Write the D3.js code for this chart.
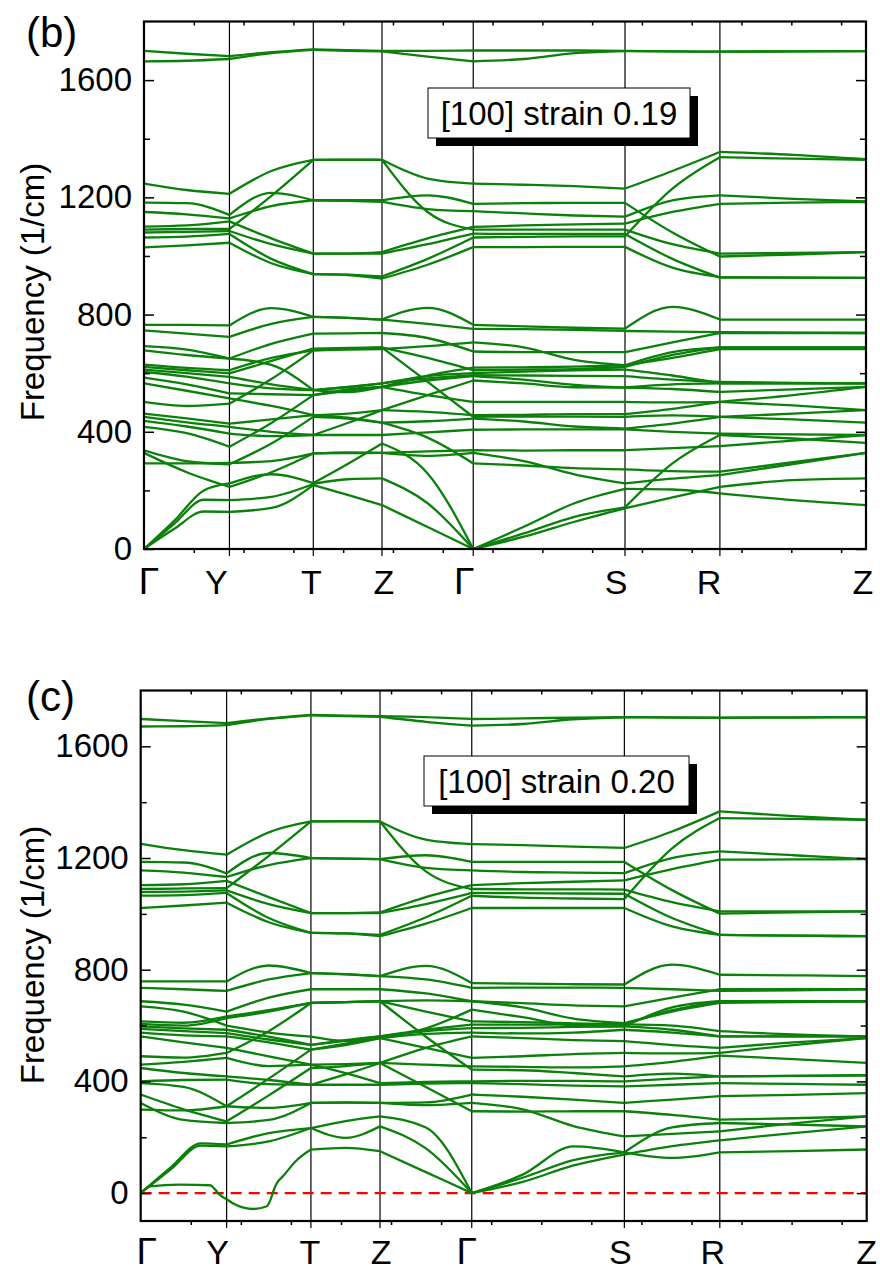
<!DOCTYPE html>
<html>
<head>
<meta charset="utf-8">
<script src="https://d3js.org/d3.v7.min.js"></script>
<style>
  body { margin: 0; background: #fff; }
  text { font-family: "Liberation Sans", Arial, sans-serif; }
</style>
</head>
<body>
<div id="chart"></div>
<script>
// high symmetry points along the q path (path length units)
var kLabels = ["Γ", "Y", "T", "Z", "Γ", "S", "R", "Z"]
var kPos = [0, 0.858, 1.70, 2.39, 3.306, 4.83, 5.783, 7.25]
var kSamples = [0, 0.429, 0.858, 1.279, 1.70, 2.045, 2.39, 2.848, 3.306, 3.814, 4.322, 4.83, 5.3065, 5.783, 6.5165, 7.25]
// acoustic bands were read a bit finer near the first Γ
var kAcoustic = [0, 0.3, 0.6, 0.858, 1.279, 1.70, 2.045, 2.39, 2.848, 3.306, 3.814, 4.322, 4.83, 5.3065, 5.783, 6.5165, 7.25]

var yTicks = [0, 400, 800, 1200, 1600]
var yMinor = [200, 600, 1000, 1400]
var xMinor = [0.5, 1, 1.5, 2, 2.5, 3, 3.5, 4, 4.5, 5, 5.5, 6, 6.5, 7]

// ---- strain 0.19 : frequencies (1/cm) ----
var acoustic019 = [
  [0, 68, 128, 127, 140, 218, 185, 150, 75, 0, 42, 93, 139, 176, 212, 235, 241],
  [0, 85, 168, 167, 178, 222, 238, 241, 156, 0, 53, 110, 142, 292, 389, 377, 362],
  [0, 95, 200, 224, 255, 225, 290, 360, 258, 0, 76, 156, 205, 203, 190, 167, 150]
]
var optical019 = [
  [292, 292, 294, 300, 326, 327, 328, 318, 328, 300, 255, 224, 240, 252, 290, 328],
  [328, 262, 212, 262, 326, 330, 328, 333, 337, 336, 337, 337, 344, 351, 370, 389],
  [337, 300, 289, 360, 451, 445, 431, 380, 292, 285, 276, 272, 266, 264, 296, 328],
  [417, 395, 349, 430, 525, 545, 553, 525, 502, 502, 502, 502, 500, 502, 525, 553],
  [437, 418, 394, 385, 389, 389, 389, 398, 407, 408, 408, 408, 400, 394, 391, 389],
  [451, 432, 417, 400, 389, 430, 474, 468, 457, 458, 460, 460, 478, 502, 490, 474],
  [462, 446, 428, 442, 457, 448, 431, 436, 445, 435, 418, 411, 428, 451, 442, 431],
  [502, 488, 496, 580, 678, 683, 688, 570, 451, 452, 452, 451, 456, 451, 462, 474],
  [565, 540, 514, 488, 457, 462, 474, 525, 575, 565, 552, 551, 546, 536, 545, 553],
  [585, 562, 531, 528, 525, 540, 553, 575, 590, 578, 560, 551, 562, 565, 565, 565],
  [604, 588, 565, 548, 542, 552, 565, 582, 593, 592, 591, 590, 578, 570, 567, 565],
  [612, 600, 587, 562, 542, 553, 565, 590, 600, 605, 610, 612, 592, 565, 565, 565],
  [621, 610, 599, 642, 684, 686, 688, 652, 610, 612, 614, 621, 662, 688, 688, 688],
  [629, 618, 610, 652, 678, 680, 682, 692, 705, 688, 645, 627, 652, 682, 682, 682],
  [678, 662, 650, 628, 542, 535, 553, 592, 619, 620, 622, 627, 672, 688, 688, 688],
  [692, 680, 650, 700, 735, 736, 737, 720, 674, 672, 672, 672, 705, 737, 737, 737],
  [746, 735, 724, 768, 792, 789, 783, 768, 751, 750, 748, 744, 742, 740, 738, 737],
  [765, 765, 763, 822, 792, 789, 783, 823, 765, 760, 755, 752, 826, 783, 783, 783]
]
var upper019 = [
  [1247, 1225, 1212, 1290, 1328, 1329, 1328, 1264, 1247, 1243, 1238, 1230, 1290, 1355, 1345, 1330],
  [1182, 1180, 1140, 1215, 1190, 1190, 1190, 1207, 1178, 1180, 1181, 1181, 1080, 998, 1005, 1013],
  [1150, 1142, 1128, 1170, 1190, 1188, 1185, 1160, 1153, 1145, 1138, 1134, 1190, 1207, 1195, 1186],
  [1100, 1104, 1118, 1060, 1008, 1008, 1013, 1060, 1099, 1104, 1108, 1110, 1150, 1178, 1182, 1184],
  [1090, 1092, 1092, 1205, 1328, 1328, 1328, 1150, 1090, 1090, 1090, 1090, 1040, 1008, 1010, 1013],
  [1063, 1066, 1075, 990, 938, 936, 930, 990, 1063, 1065, 1067, 1067, 1230, 1337, 1332, 1328],
  [1029, 1036, 1045, 975, 938, 935, 923, 970, 1030, 1030, 1031, 1031, 960, 928, 926, 925],
  [1080, 1082, 1085, 1040, 1008, 1008, 1008, 1040, 1076, 1075, 1075, 1075, 990, 926, 926, 925],
  [1700, 1690, 1682, 1695, 1705, 1702, 1700, 1700, 1701, 1701, 1701, 1700, 1698, 1697, 1698, 1699],
  [1664, 1666, 1672, 1692, 1703, 1700, 1698, 1680, 1664, 1672, 1692, 1699, 1698, 1697, 1698, 1699]
]

// ---- strain 0.20 ----
var acoustic020 = [
  [0, 85, 170, 167, 185, 233, 198, 239, 160, 0, 55, 118, 146, 235, 251, 245, 239],
  [0, 92, 178, 174, 215, 233, 258, 275, 235, 0, 66, 167, 146, 126, 146, 150, 156]
]
// the soft transverse mode, read on its own finer q grid
var softK020 = [0, 0.093, 0.39, 0.692, 0.74, 0.78, 0.858, 0.95, 1.12, 1.26, 1.30, 1.33, 1.36, 1.42, 1.55, 1.70, 2.045, 2.39, 2.848, 3.306, 3.814, 4.322, 4.83, 5.3065, 5.783, 6.5165, 7.25]
var softMode020 = [0, 24, 30, 28, 14, -3, -22, -42, -57, -47, -20, 12, 36, 60, 115, 156, 162, 150, 75, 0, 40, 99, 138, 168, 189, 215, 239]
var optical020 = [
  [299, 296, 311, 305, 323, 324, 323, 315, 323, 300, 240, 203, 212, 221, 250, 275],
  [323, 262, 251, 262, 323, 325, 323, 325, 353, 345, 335, 323, 335, 347, 352, 358],
  [353, 300, 257, 350, 448, 455, 466, 380, 293, 292, 293, 293, 280, 263, 268, 275],
  [394, 380, 311, 410, 514, 535, 555, 520, 484, 490, 498, 502, 500, 502, 530, 555],
  [400, 405, 406, 390, 388, 388, 388, 392, 394, 390, 385, 382, 388, 394, 391, 388],
  [448, 430, 418, 405, 388, 425, 466, 460, 454, 452, 450, 454, 470, 492, 480, 466],
  [460, 470, 484, 455, 460, 430, 394, 398, 400, 402, 402, 400, 410, 418, 420, 422],
  [490, 485, 502, 580, 681, 684, 687, 560, 442, 440, 430, 418, 428, 418, 420, 422],
  [561, 540, 520, 490, 460, 462, 466, 520, 561, 555, 548, 544, 530, 520, 540, 555],
  [575, 565, 561, 540, 514, 530, 555, 570, 575, 572, 575, 585, 575, 561, 561, 561],
  [588, 580, 573, 550, 531, 545, 561, 580, 591, 592, 595, 597, 585, 561, 561, 561],
  [597, 590, 585, 560, 531, 548, 561, 585, 603, 603, 604, 604, 600, 580, 568, 561],
  [606, 600, 627, 650, 681, 684, 687, 650, 615, 612, 608, 604, 655, 687, 687, 687],
  [615, 610, 633, 655, 681, 684, 687, 690, 687, 665, 625, 609, 650, 681, 684, 687],
  [669, 650, 600, 575, 560, 545, 555, 590, 657, 630, 600, 597, 665, 687, 687, 687],
  [687, 675, 650, 700, 730, 730, 730, 715, 687, 680, 672, 669, 700, 730, 730, 730],
  [735, 730, 724, 765, 788, 783, 777, 765, 735, 736, 736, 735, 730, 724, 726, 730],
  [758, 758, 758, 815, 788, 784, 777, 814, 752, 750, 748, 747, 818, 782, 780, 777]
]
var upper020 = [
  [1251, 1228, 1212, 1292, 1331, 1332, 1331, 1266, 1250, 1246, 1241, 1236, 1295, 1367, 1350, 1337],
  [1186, 1184, 1145, 1218, 1200, 1198, 1196, 1210, 1186, 1186, 1186, 1186, 1085, 1001, 1005, 1009],
  [1156, 1148, 1132, 1175, 1200, 1198, 1196, 1165, 1156, 1150, 1148, 1146, 1200, 1224, 1210, 1196],
  [1103, 1106, 1118, 1060, 1003, 1003, 1005, 1060, 1103, 1110, 1115, 1120, 1160, 1194, 1195, 1196],
  [1089, 1091, 1092, 1208, 1331, 1331, 1331, 1152, 1089, 1088, 1088, 1087, 1042, 1009, 1009, 1009],
  [1065, 1067, 1075, 985, 932, 930, 925, 988, 1065, 1058, 1055, 1053, 1235, 1343, 1340, 1337],
  [1021, 1030, 1040, 970, 932, 930, 920, 965, 1021, 1021, 1021, 1021, 955, 925, 922, 920],
  [1078, 1080, 1084, 1035, 1003, 1003, 1003, 1035, 1075, 1074, 1073, 1072, 985, 925, 922, 920],
  [1698, 1690, 1683, 1700, 1713, 1710, 1708, 1705, 1698, 1700, 1703, 1705, 1704, 1703, 1704, 1705],
  [1671, 1672, 1676, 1698, 1711, 1708, 1706, 1688, 1674, 1680, 1697, 1704, 1703, 1702, 1703, 1704]
]

var width = 880
var height = 1272
var green = "#0b800b"

var svg = d3.select("#chart")
    .append("svg")
    .attr("width", width)
    .attr("height", height)

svg.append("rect").attr("width", width).attr("height", height).attr("fill", "white")

// label nudges, as placed by hand in the original
var labelDx019 = [5, -13, -2, 2, -9, -9, -11, -3]
var labelDx020 = [6, -9, -1, 1, -5, -4, -7, 0]

var panels = [
  { id: "b", tag: "(b)", note: "[100] strain 0.19",
    acoustic: acoustic019, bands: optical019.concat(upper019), soft: null,
    left: 144, right: 866, top: 21.5, bottom: 549, yDomain: [0, 1800],
    tagY: 47, titleY: 292, labelY: 594, labelDx: labelDx019,
    box: { x: 428, y: 88, w: 262, h: 50 } },
  { id: "c", tag: "(c)", note: "[100] strain 0.20",
    acoustic: acoustic020, bands: optical020.concat(upper020), soft: [softK020, softMode020],
    left: 140.7, right: 866.7, top: 690.5, bottom: 1221, yDomain: [-100, 1800],
    tagY: 711, titleY: 955, labelY: 1264, labelDx: labelDx020,
    box: { x: 424, y: 756, w: 265, h: 50 } }
]

panels.forEach(drawPanel)

function drawPanel(p) {
    var x = d3.scaleLinear().domain([0, kPos[kPos.length - 1]]).range([p.left, p.right])
    var y = d3.scaleLinear().domain(p.yDomain).range([p.bottom, p.top])
    var g = svg.append("g")

    g.append("clipPath").attr("id", "clip-" + p.id)
        .append("rect").attr("x", p.left).attr("y", p.top)
        .attr("width", p.right - p.left).attr("height", p.bottom - p.top)

    // vertical lines at the high symmetry points
    g.selectAll(".kline").data(kPos.slice(1, -1)).enter().append("line")
        .attr("x1", function (d) { return x(d) }).attr("x2", function (d) { return x(d) })
        .attr("y1", p.top).attr("y2", p.bottom + 7)
        .attr("stroke", "black").attr("stroke-width", 1.2)

    if (p.yDomain[0] < 0) {
        g.append("line")
            .attr("x1", p.left).attr("x2", p.right).attr("y1", y(0)).attr("y2", y(0))
            .attr("stroke", "#ff0000").attr("stroke-width", 2.4).attr("stroke-dasharray", "11,7")
    }

    // each band is cut at the high symmetry points so the kinks stay sharp
    var line = d3.line()
        .x(function (d) { return x(d[0]) })
        .y(function (d) { return y(d[1]) })
        .curve(d3.curveMonotoneX)

    var bandG = g.append("g").attr("clip-path", "url(#clip-" + p.id + ")")
    function drawBand(ks, vals) {
        for (var s = 0; s < kPos.length - 1; s++) {
            var pts = []
            ks.forEach(function (k, i) {
                if (k >= kPos[s] - 1e-6 && k <= kPos[s + 1] + 1e-6) pts.push([k, vals[i]])
            })
            bandG.append("path").attr("d", line(pts))
                .attr("fill", "none").attr("stroke", green).attr("stroke-width", 2.3)
        }
    }
    p.acoustic.forEach(function (b) { drawBand(kAcoustic, b) })
    p.bands.forEach(function (b) { drawBand(kSamples, b) })
    if (p.soft) drawBand(p.soft[0], p.soft[1])

    // axes: inward ticks on all four sides
    var left = g.append("g").attr("transform", "translate(" + p.left + ",0)")
        .call(d3.axisLeft(y).tickValues(yTicks).tickFormat(d3.format("d"))
            .tickSizeInner(-10).tickSizeOuter(0).tickPadding(12))
    left.selectAll("text").attr("font-size", 33).attr("font-family", "'Liberation Sans', Arial, sans-serif").attr("fill", "black")
    g.append("g").attr("transform", "translate(" + p.left + ",0)")
        .call(d3.axisLeft(y).tickValues(yMinor).tickSizeInner(-6).tickSizeOuter(0).tickFormat(""))
    g.append("g").attr("transform", "translate(" + p.right + ",0)")
        .call(d3.axisRight(y).tickValues(yTicks).tickSizeInner(-10).tickSizeOuter(0).tickFormat(""))
    g.append("g").attr("transform", "translate(" + p.right + ",0)")
        .call(d3.axisRight(y).tickValues(yMinor).tickSizeInner(-6).tickSizeOuter(0).tickFormat(""))
    g.append("g").attr("transform", "translate(0," + p.bottom + ")")
        .call(d3.axisBottom(x).tickValues(xMinor).tickSizeInner(4).tickSizeOuter(0).tickFormat(""))
    g.append("g").attr("transform", "translate(0," + p.top + ")")
        .call(d3.axisTop(x).tickValues(xMinor).tickSizeInner(-4).tickSizeOuter(0).tickFormat(""))
    g.selectAll(".domain").remove()
    g.selectAll(".tick line").attr("stroke", "black").attr("stroke-width", 1.5)

    // frame
    g.append("rect")
        .attr("x", p.left).attr("y", p.top)
        .attr("width", p.right - p.left).attr("height", p.bottom - p.top)
        .attr("fill", "none").attr("stroke", "black").attr("stroke-width", 2.2)

    // q point labels
    g.selectAll(".klabel").data(kLabels).enter().append("text")
        .attr("x", function (d, i) { return x(kPos[i]) + p.labelDx[i] })
        .attr("y", p.labelY)
        .attr("text-anchor", "middle")
        .attr("font-size", function (d) { return d == "Γ" ? 37 : 34 })
        .attr("font-family", function (d) { return d == "Γ" ? "'Liberation Serif', 'Times New Roman', serif" : "'Liberation Sans', Arial, sans-serif" })
        .text(function (d) { return d })

    // axis title
    g.append("text")
        .attr("transform", "translate(44," + p.titleY + ") rotate(-90)")
        .attr("text-anchor", "middle")
        .attr("font-size", 33)
        .text("Frequency (1/cm)")

    // panel tag
    g.append("text").attr("x", 26).attr("y", p.tagY).attr("font-size", 42).text(p.tag)

    // note box with a drop shadow
    g.append("rect").attr("x", p.box.x + 8).attr("y", p.box.y + 8)
        .attr("width", p.box.w).attr("height", p.box.h).attr("fill", "black")
    g.append("rect").attr("x", p.box.x).attr("y", p.box.y)
        .attr("width", p.box.w).attr("height", p.box.h)
        .attr("fill", "white").attr("stroke", "black").attr("stroke-width", 1)
    g.append("text")
        .attr("x", p.box.x + p.box.w / 2).attr("y", p.box.y + p.box.h / 2 + 12)
        .attr("text-anchor", "middle").attr("font-size", 33)
        .text(p.note)
}
</script>
</body>
</html>
